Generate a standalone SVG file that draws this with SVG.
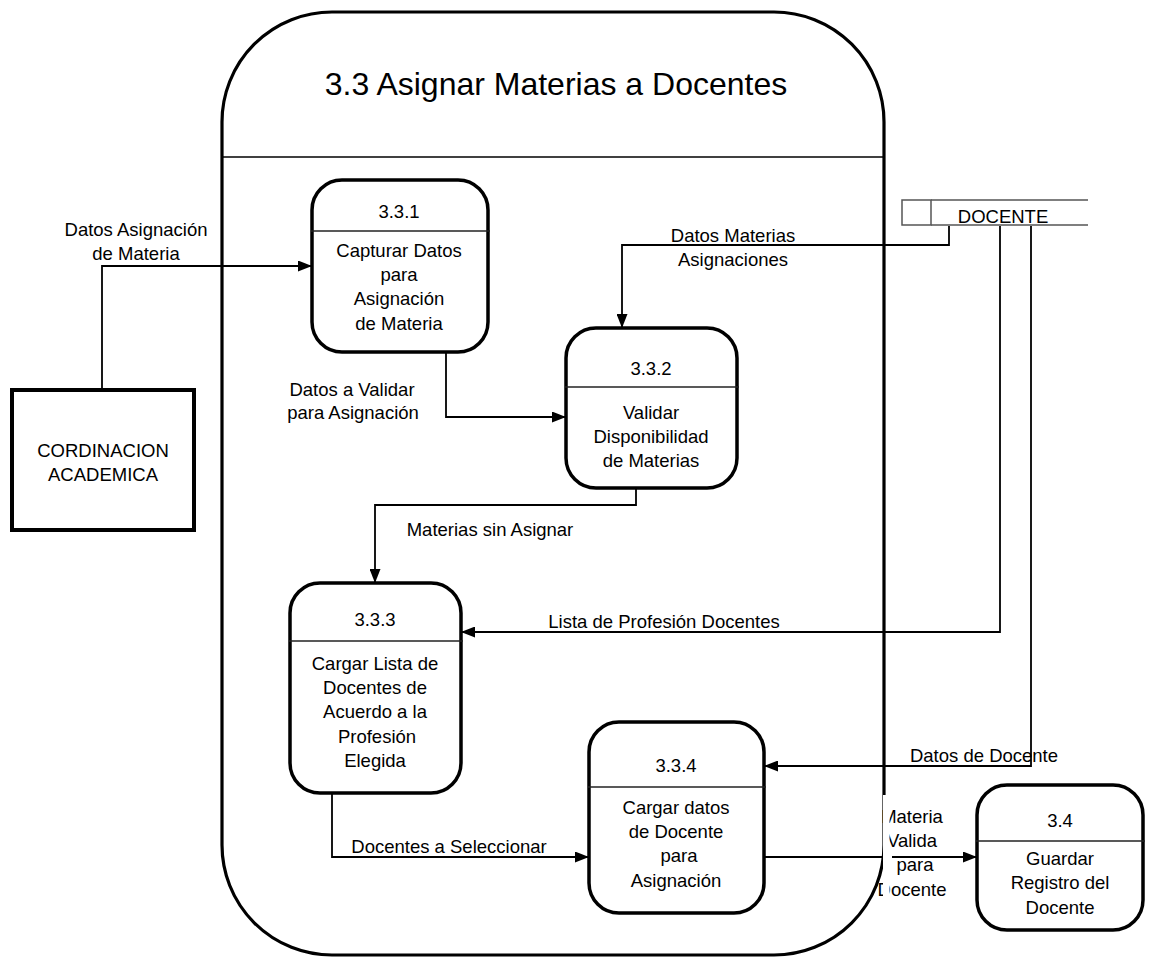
<svg xmlns="http://www.w3.org/2000/svg" width="1156" height="967" viewBox="0 0 1156 967">
<style>
text{font-family:"Liberation Sans",Arial,sans-serif;font-size:18.5px;fill:#000;text-anchor:middle}
.proc{fill:#fff;stroke:#000;stroke-width:3.5}
.div{stroke:#222;stroke-width:1.5}
.flow{fill:none;stroke:#000;stroke-width:1.8}
.store{fill:none;stroke:#555;stroke-width:1.5}
</style>
<defs>
<marker id="arr" viewBox="0 0 14 11" refX="14" refY="5.5" markerWidth="14" markerHeight="11" markerUnits="userSpaceOnUse" orient="auto">
<path d="M0,0 L14,5.5 L0,11 z" fill="#000"/>
</marker>
</defs>
<rect width="1156" height="967" fill="#fff"/>
<g id="frame">
<rect x="222" y="12" width="662" height="943" rx="110" ry="110" fill="none" stroke="#000" stroke-width="3.2"/>
<line x1="222" y1="157" x2="884" y2="157" stroke="#000" stroke-width="1.5"/>
<text x="556" y="95" style="font-size:32px">3.3 Asignar Materias a Docentes</text>
</g>
<g id="connectors">
<polyline class="flow" points="102,390 102,266 312,266" marker-end="url(#arr)"/>
<polyline class="flow" points="446,352 446,417 566,417" marker-end="url(#arr)"/>
<polyline class="flow" points="949,226 949,245 622,245 622,328" marker-end="url(#arr)"/>
<polyline class="flow" points="636,488 636,505 375,505 375,583" marker-end="url(#arr)"/>
<polyline class="flow" points="1000,226 1000,632 461,632" marker-end="url(#arr)"/>
<polyline class="flow" points="1031,226 1031,766 764,766" marker-end="url(#arr)"/>
<polyline class="flow" points="332,793 332,857 589,857" marker-end="url(#arr)"/>
<line class="flow" x1="764" y1="857" x2="883" y2="857"/>
<text x="136" y="236">Datos Asignación</text>
<text x="136" y="260">de Materia</text>
<text x="352" y="396">Datos  a Validar</text>
<text x="353" y="419">para Asignación</text>
<text x="733" y="242">Datos Materias</text>
<text x="733" y="266">Asignaciones</text>
<text x="490" y="536">Materias sin Asignar</text>
<text x="664" y="628">Lista de Profesión Docentes</text>
<text x="984" y="762">Datos de Docente</text>
<text x="449" y="853">Docentes a Seleccionar</text>
<text x="912" y="823">Materia</text>
<text x="912" y="847">Valida</text>
<text x="915" y="871">para</text>
<text x="912" y="896">Docente</text>
<rect x="883" y="795" width="6.5" height="110" fill="#fff"/>
<line class="flow" x1="892" y1="857" x2="977" y2="857" marker-end="url(#arr)"/>
</g>
<g id="cordinacion">
<rect x="12" y="390" width="182" height="140" fill="#fff" stroke="#000" stroke-width="4"/>
<text x="103" y="457">CORDINACION</text>
<text x="103" y="481">ACADEMICA</text>
</g>
<g id="docente-store">
<rect class="store" x="902" y="200" width="29" height="25"/>
<line class="store" x1="931" y1="200" x2="1088" y2="200"/>
<line class="store" x1="931" y1="225" x2="1088" y2="225"/>
<text x="1003" y="223">DOCENTE</text>
</g>
<g id="p331">
<rect class="proc" x="312" y="180" width="176" height="172" rx="30"/>
<line class="div" x1="311" y1="231" x2="490" y2="231"/>
<text x="399" y="218">3.3.1</text>
<text x="399" y="257">Capturar Datos</text>
<text x="399" y="281">para</text>
<text x="399" y="305">Asignación</text>
<text x="399" y="330">de Materia</text>
</g>
<g id="p332">
<rect class="proc" x="566" y="328" width="171" height="160" rx="30"/>
<line class="div" x1="565" y1="387" x2="739" y2="387"/>
<text x="651" y="375">3.3.2</text>
<text x="651" y="419">Validar</text>
<text x="651" y="443">Disponibilidad</text>
<text x="651" y="467">de Materias</text>
</g>
<g id="p333">
<rect class="proc" x="290" y="583" width="171" height="210" rx="30"/>
<line class="div" x1="289" y1="641" x2="463" y2="641"/>
<text x="375" y="626">3.3.3</text>
<text x="375" y="670">Cargar Lista de</text>
<text x="375" y="694">Docentes de</text>
<text x="375" y="718">Acuerdo a la</text>
<text x="377" y="743">Profesión</text>
<text x="375" y="767">Elegida</text>
</g>
<g id="p334">
<rect class="proc" x="589" y="722" width="175" height="191" rx="30"/>
<line class="div" x1="588" y1="787" x2="766" y2="787"/>
<text x="676" y="772">3.3.4</text>
<text x="676" y="814">Cargar datos</text>
<text x="676" y="838">de Docente</text>
<text x="679" y="862">para</text>
<text x="676" y="887">Asignación</text>
</g>
<g id="p34">
<rect class="proc" x="977" y="785" width="166" height="145" rx="30"/>
<line class="div" x1="976" y1="841" x2="1145" y2="841"/>
<text x="1060" y="827">3.4</text>
<text x="1060" y="865">Guardar</text>
<text x="1060" y="889">Registro del</text>
<text x="1060" y="914">Docente</text>
</g>
</svg>
